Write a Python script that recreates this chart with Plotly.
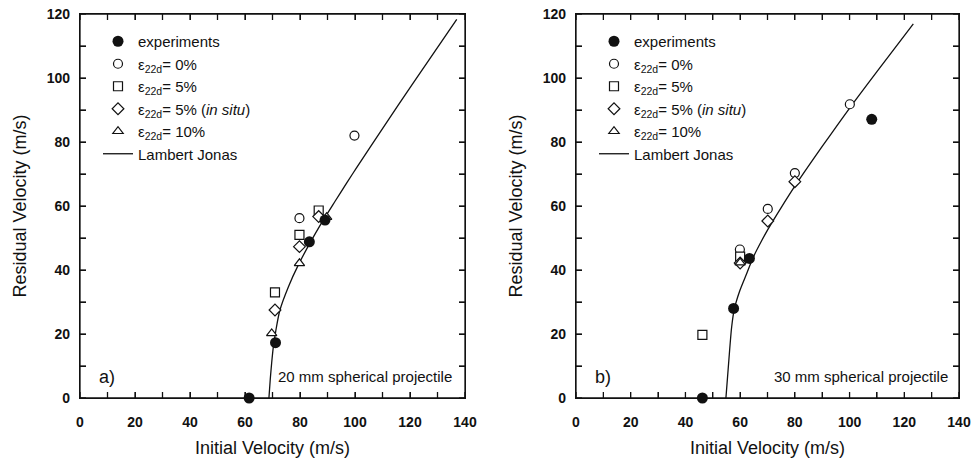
import plotly.graph_objects as go

# ---------------- Panel a) 20 mm spherical projectile ----------------
a_exp_x = [61.5, 71.1, 83.4, 89.1]
a_exp_y = [0.0, 17.3, 48.8, 55.6]
a_e0_x = [79.8, 99.8]
a_e0_y = [56.2, 82.0]
a_e5_x = [70.9, 79.8, 86.8]
a_e5_y = [33.0, 51.0, 58.6]
a_e5s_x = [70.9, 79.8, 86.8]
a_e5s_y = [27.5, 47.3, 56.7]
a_e10_x = [69.7, 79.8, 89.7]
a_e10_y = [20.2, 42.1, 56.5]
a_lj_x = [68.7, 69.2, 69.7, 70.3, 71.2, 72.7, 75.8, 79.4, 83.6, 87.9, 92.7, 97.0, 100.6, 109.1, 121.2, 137.0]
a_lj_y = [0.0, 6.0, 11.0, 16.0, 21.0, 27.5, 34.8, 41.6, 48.4, 54.8, 61.4, 67.2, 72.0, 83.0, 98.5, 118.3]

# ---------------- Panel b) 30 mm spherical projectile ----------------
b_exp_x = [46.2, 57.6, 63.4, 108.1]
b_exp_y = [0.0, 28.0, 43.6, 87.1]
b_e0_x = [59.9, 70.1, 80.0, 100.1]
b_e0_y = [46.4, 59.1, 70.3, 91.8]
b_e5_x = [46.2, 60.0]
b_e5_y = [19.7, 44.2]
b_e5s_x = [60.0, 70.1, 80.0]
b_e5s_y = [42.2, 55.3, 67.6]
b_e10_x = [60.0]
b_e10_y = [42.3]
b_lj_x = [54.8, 55.8, 56.9, 57.9, 59.9, 62.4, 64.8, 67.9, 70.1, 75.0, 80.0, 90.0, 100.1, 110.0, 123.3]
b_lj_y = [0.0, 11.0, 22.2, 27.9, 33.6, 38.9, 44.0, 49.2, 52.6, 59.5, 66.2, 78.6, 90.7, 102.0, 116.9]

# ---------------- Text / ticks ----------------
names = ["experiments",
         "ε<sub>22d</sub>= 0%",
         "ε<sub>22d</sub>= 5%",
         "ε<sub>22d</sub>= 5% (<i>in situ</i>)",
         "ε<sub>22d</sub>= 10%",
         "Lambert Jonas"]
x_ticks = [0, 20, 40, 60, 80, 100, 120, 140]
y_ticks = [0, 20, 40, 60, 80, 100, 120]
x_all_ticks = [0, 10, 20, 30, 40, 50, 60, 70, 80, 90, 100, 110, 120, 130, 140]
y_all_ticks = [0, 10, 20, 30, 40, 50, 60, 70, 80, 90, 100, 110, 120]
X_RANGE = [0, 140]
Y_RANGE = [0, 120]

FONT = "Liberation Sans, Arial, sans-serif"
BLACK = "#111111"

W, H = 972, 462
ML, MR, MT, MB = 80, 13, 14, 64
PW = W - ML - MR
PH = H - MT - MB
SUBW = 385
TL = 6  # tick length in pixels

fig = go.Figure()


def add_frame(xa, ya):
    """Box and inward ticks on all four sides, drawn through the axis scales."""
    x0, x1 = X_RANGE
    y0, y1 = Y_RANGE
    dx = TL * (x1 - x0) / SUBW      # tick length in x data units
    dy = TL * (y1 - y0) / PH        # tick length in y data units
    fx, fy = [x0, x1, x1, x0, x0], [y0, y0, y1, y1, y0]
    tx, ty = [], []
    for v in x_all_ticks:
        tx += [v, v, None, v, v, None]
        ty += [y0, y0 + dy, None, y1, y1 - dy, None]
    for v in y_all_ticks:
        tx += [x0, x0 + dx, None, x1, x1 - dx, None]
        ty += [v, v, None, v, v, None]
    for xs, ys in ((fx, fy), (tx, ty)):
        fig.add_trace(go.Scatter(x=xs, y=ys, xaxis=xa, yaxis=ya, mode="lines",
                                 line=dict(color=BLACK, width=1.3), showlegend=False,
                                 hoverinfo="skip", cliponaxis=False))


def add_panel(xa, ya, legend, data):
    (ex, ey), (c0x, c0y), (s5x, s5y), (d5x, d5y), (t10x, t10y), (ljx, ljy) = data
    add_frame(xa, ya)
    common = dict(xaxis=xa, yaxis=ya, legend=legend, cliponaxis=False, hoverinfo="skip")
    fig.add_trace(go.Scatter(x=ljx, y=ljy, mode="lines", name=names[5],
                             line=dict(color=BLACK, width=1.3, shape="spline", smoothing=0.8),
                             legendrank=6, **common))
    fig.add_trace(go.Scatter(x=c0x, y=c0y, mode="markers", name=names[1], legendrank=2,
                             marker=dict(symbol="circle", size=9, color="white",
                                         line=dict(color=BLACK, width=1.2)), **common))
    fig.add_trace(go.Scatter(x=s5x, y=s5y, mode="markers", name=names[2], legendrank=3,
                             marker=dict(symbol="square", size=9, color="white",
                                         line=dict(color=BLACK, width=1.2)), **common))
    fig.add_trace(go.Scatter(x=d5x, y=d5y, mode="markers", name=names[3], legendrank=4,
                             marker=dict(symbol="diamond", size=9, color="white",
                                         line=dict(color=BLACK, width=1.2)), **common))
    fig.add_trace(go.Scatter(x=t10x, y=t10y, mode="markers", name=names[4], legendrank=5,
                             marker=dict(symbol="triangle-up", size=9, color="white",
                                         line=dict(color=BLACK, width=1.2)), **common))
    fig.add_trace(go.Scatter(x=ex, y=ey, mode="markers", name=names[0], legendrank=1,
                             marker=dict(symbol="circle", size=11, color=BLACK,
                                         line=dict(color=BLACK, width=0)), **common))


add_panel("x", "y", "legend",
          [(a_exp_x, a_exp_y), (a_e0_x, a_e0_y), (a_e5_x, a_e5_y),
           (a_e5s_x, a_e5s_y), (a_e10_x, a_e10_y), (a_lj_x, a_lj_y)])
add_panel("x2", "y2", "legend2",
          [(b_exp_x, b_exp_y), (b_e0_x, b_e0_y), (b_e5_x, b_e5_y),
           (b_e5s_x, b_e5s_y), (b_e10_x, b_e10_y), (b_lj_x, b_lj_y)])


def axis_common(ticks, rng):
    return dict(range=rng, tickvals=ticks, ticks="inside", ticklen=TL, tickwidth=1.3,
                tickcolor=BLACK, showline=True, linecolor=BLACK, linewidth=1.3,
                mirror="ticks", showgrid=False, zeroline=False, automargin=False,
                ticklabeloverflow="allow", fixedrange=True,
                minor=dict(dtick=10, ticks="inside", ticklen=TL, tickwidth=1.3,
                           tickcolor=BLACK, showgrid=False),
                tickfont=dict(family=FONT, size=14, color=BLACK, weight="bold"),
                title_font=dict(family=FONT, size=18, color=BLACK))


xl = axis_common(x_ticks, X_RANGE); xl.update(domain=[0, SUBW / PW], anchor="y",
        title_text="Initial Velocity (m/s)", title_standoff=12, ticklabelstandoff=11)
xr = axis_common(x_ticks, X_RANGE); xr.update(domain=[496 / PW, 1], anchor="y2",
        title_text="Initial Velocity (m/s)", title_standoff=12, ticklabelstandoff=11)
yl = axis_common(y_ticks, Y_RANGE); yl.update(domain=[0, 1], anchor="x",
        title_text="Residual Velocity (m/s)", title_standoff=15, ticklabelstandoff=6)
yr = axis_common(y_ticks, Y_RANGE); yr.update(domain=[0, 1], anchor="x2",
        title_text="Residual Velocity (m/s)", title_standoff=15, ticklabelstandoff=6)

leg = dict(xanchor="left", yanchor="top", bgcolor="rgba(0,0,0,0)", borderwidth=0,
           font=dict(family=FONT, size=15, color=BLACK), tracegroupgap=0,
           traceorder="normal", itemclick=False, itemdoubleclick=False)

fig.update_layout(
    width=W, height=H,
    margin=dict(l=ML, r=MR, t=MT, b=MB, autoexpand=False),
    paper_bgcolor="white", plot_bgcolor="white",
    font=dict(family=FONT, color=BLACK),
    hovermode=False,
    xaxis=xl, xaxis2=xr, yaxis=yl, yaxis2=yr,
    legend=dict(x=18 / PW, y=1 - 11 / PH, **leg),
    legend2=dict(x=(496 + 18) / PW, y=1 - 11 / PH, **leg),
    annotations=[
        dict(text="a)", x=0.044, y=0.055, xref="x domain", yref="y domain",
             xanchor="left", yanchor="middle", showarrow=False,
             font=dict(family=FONT, size=18, color=BLACK)),
        dict(text="20 mm spherical projectile", x=0.971, y=0.055, xref="x domain",
             yref="y domain", xanchor="right", yanchor="middle", showarrow=False,
             font=dict(family=FONT, size=15, color=BLACK)),
        dict(text="b)", x=0.044, y=0.055, xref="x2 domain", yref="y2 domain",
             xanchor="left", yanchor="middle", showarrow=False,
             font=dict(family=FONT, size=18, color=BLACK)),
        dict(text="30 mm spherical projectile", x=0.977, y=0.055, xref="x2 domain",
             yref="y2 domain", xanchor="right", yanchor="middle", showarrow=False,
             font=dict(family=FONT, size=15, color=BLACK)),
    ],
)

# remove the browser's default page margin so the figure fills the window exactly
fig.write_html("out.html", config={"displayModeBar": False},
               post_script="document.body.style.margin='0';")
